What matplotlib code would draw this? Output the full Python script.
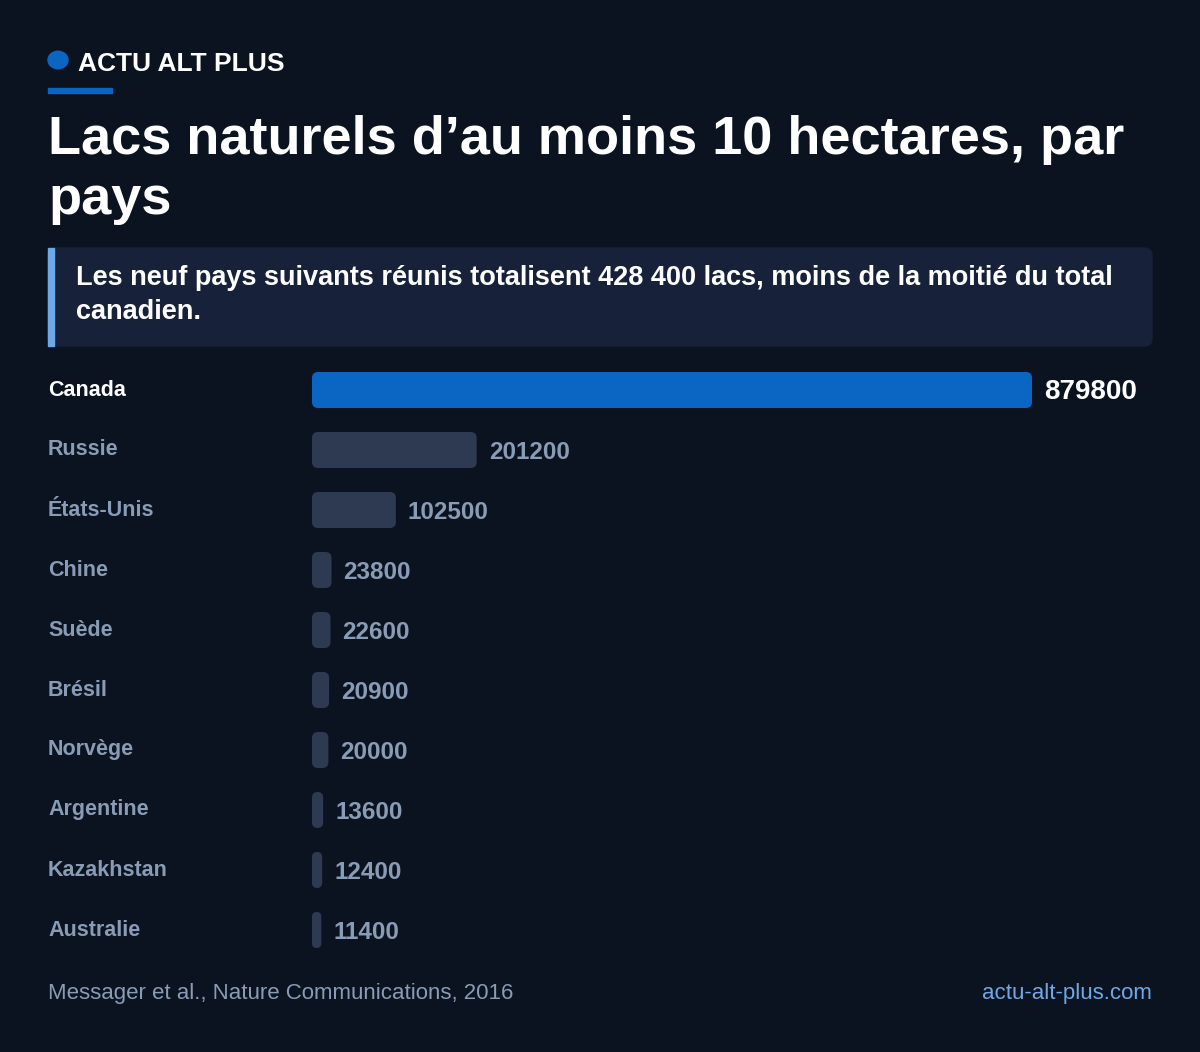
import matplotlib
matplotlib.use("Agg")
import matplotlib.pyplot as plt
from matplotlib.patches import FancyBboxPatch, Rectangle, Circle

plt.rcParams['font.family'] = ['Liberation Sans', 'DejaVu Sans']

pays = ["Canada", "Russie", "États-Unis", "Chine", "Suède", "Brésil",
        "Norvège", "Argentine", "Kazakhstan", "Australie"]
lacs = [879800, 201200, 102500, 23800, 22600, 20900, 20000, 13600, 12400, 11400]

FOND = "#0b1320"
BLEU = "#0a66c2"
GRIS_BARRE = "#2d3a52"
GRIS_TEXTE = "#8a9bb5"

W, H = 1200, 1052
fig = plt.figure(figsize=(W / 100, H / 100), dpi=100, facecolor=FOND)

def px(x, y):
    return x / W, 1 - y / H

# en-tête
fig.patches.append(Circle(px(58, 60), 10 / W, transform=fig.transFigure,
                          color=BLEU, zorder=3))
fig.text(*px(78, 64), "ACTU ALT PLUS", color="white", fontsize=19,
         fontweight="bold", va="center")
fig.patches.append(Rectangle(px(48, 93), 64 / W, 5 / H, transform=fig.transFigure,
                             color=BLEU))
fig.text(*px(48, 140), "Lacs naturels d’au moins 10 hectares, par", color="white",
         fontsize=39, fontweight="bold", va="center")
fig.text(*px(48, 200), "pays", color="white", fontsize=39, fontweight="bold", va="center")

# encadré
fig.patches.append(FancyBboxPatch(px(48, 346), 1104 / W, 98 / H, transform=fig.transFigure,
                                  boxstyle="round,pad=0,rounding_size=0.007",
                                  color="#17223a", zorder=1))
fig.patches.append(Rectangle(px(48, 346), 6 / W, 98 / H, transform=fig.transFigure,
                             color="#6fa8e6", zorder=2))
fig.text(*px(76, 278), "Les neuf pays suivants réunis totalisent 428 400 lacs, moins de la moitié du total",
         color="white", fontsize=19.5, fontweight="bold", va="center", zorder=3)
fig.text(*px(76, 312), "canadien.", color="white", fontsize=19.5, fontweight="bold",
         va="center", zorder=3)

# barres
x0, x1, y0, y1 = 312, 1152, 360, 960
ax = fig.add_axes([x0 / W, 1 - y1 / H, (x1 - x0) / W, (y1 - y0) / H])
ax.set_facecolor(FOND)
xmax = lacs[0] * (x1 - x0) / 720
ax.set_xlim(0, xmax)
ax.set_ylim(len(pays) - 0.5, -0.5)
ax.axis("off")

couleurs = [BLEU] + [GRIS_BARRE] * (len(pays) - 1)
barres = ax.barh(range(len(pays)), lacs, height=0.6, color=couleurs)
rx = 6 * xmax / (x1 - x0)
ry = 6 / 60
for b, c in zip(barres, couleurs):
    b.set_visible(False)
    r = min(rx, b.get_width() / 2)
    ax.add_patch(FancyBboxPatch((b.get_x(), b.get_y()), b.get_width(), b.get_height(),
                                boxstyle=f"round,pad=0,rounding_size={r}",
                                mutation_aspect=ry / rx, color=c, lw=0))

decal = 12 * xmax / (x1 - x0)
for i, (p, v) in enumerate(zip(pays, lacs)):
    premier = i == 0
    ax.text(v + decal, i + 0.04, str(v), color="white" if premier else GRIS_TEXTE,
            fontsize=20 if premier else 17.5, fontweight="bold", va="center")
    fig.text(*px(48, 390 + 60 * i), p, color="white" if premier else GRIS_TEXTE,
             fontsize=15.5, fontweight="bold", va="center")

# pied
fig.text(*px(48, 993), "Messager et al., Nature Communications, 2016", color=GRIS_TEXTE,
         fontsize=16, va="center")
fig.text(*px(1152, 993), "actu-alt-plus.com", color="#6fa8e6", fontsize=16,
         va="center", ha="right")

fig.savefig("out.png", dpi=100, facecolor=FOND)
